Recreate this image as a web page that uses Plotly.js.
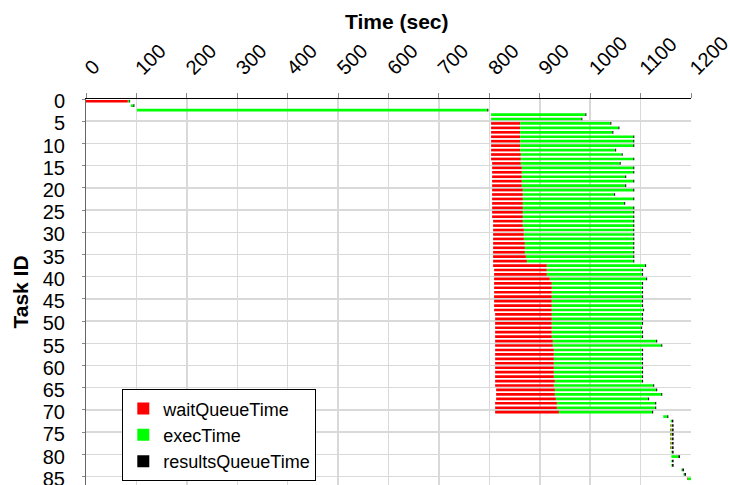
<!DOCTYPE html>
<html>
<head>
<meta charset="utf-8">
<script src="https://cdn.plot.ly/plotly-3.0.1.min.js"></script>
<style>html,body{margin:0;padding:0;background:#fff;}#chart{width:730px;height:485px;}</style>
</head>
<body>
<div id="chart"></div>
<script>
const taskIds = [0,1,2,3,4,5,6,7,8,9,10,11,12,13,14,15,16,17,18,19,20,21,22,23,24,25,26,27,28,29,
  30,31,32,33,34,35,36,37,38,39,40,41,42,43,44,45,46,47,48,49,50,51,52,53,54,55,56,57,58,59,
  60,61,62,63,64,65,66,67,68,69,70,71,72,73,74,75,76,77,78,79,80,81,82,83,84,85];

const startTime = [0,89,101,
  803.5,803.5,803.5,803.5,803.5,803.5,803.5,803.5,803.5,803.5,803.5,
  805.5,805.5,805.5,805.5,805.5,805.5,805.5,805.5,805.5,805.5,805.5,805.5,805.5,
  807.5,807.5,807.5,807.5,807.5,807.5,807.5,807.5,807.5,807.5,807.5,
  809.5,809.5,809.5,809.5,809.5,809.5,809.5,809.5,809.5,809.5,
  811.5,811.5,811.5,811.5,811.5,811.5,811.5,811.5,811.5,811.5,811.5,811.5,811.5,811.5,811.5,811.5,811.5,
  813.5,813.5,813.5,
  811.5,811.5,811.5,
  1145,1159.5,1159,1159,1159,1159,1159,1159,1161,1161,1161,1161,1181,1185,1192];

const waitQueueTime = [83,0,0,0,0,
  57.5,57.5,57.5,57.5,57.5,57.5,57.5,59,59,
  57,59,59,59,59,59,61,61,61,61,61,61,61,
  59,59,61,61,61,63,63,63,65,67,106.5,
  104.5,104.5,110.5,114.5,114.5,114.5,114.5,114.5,114.5,114.5,
  112.5,112.5,112.5,112.5,112.5,112.5,114.5,114.5,
  116.5,116.5,116.5,116.5,116.5,116.5,116.5,118.5,116.5,
  116.5,116.5,118.5,122.5,122.5,126.5,
  0,0,1.5,1.5,1.5,1.5,1.5,1.5,0,0,0,0,0,0,1.5];

const execTime = [3,5,695,187,179,
  179,195,183,224.5,224.5,224.5,188.5,200,223,
  196,221,221,205,221,205,219,181,219,201,219,219,219,
  219,219,217,217,217,215,215,215,213,211,195,
  189,189,191,179,179,179,179,179,179,181,
  179,179,179,177,179,179,205,215,
  175,175,175,175,175,175,175,173,197,
  201,211,183,195,195,185,
  8,2.5,2,2,2,2,2,2,1.5,14,1.5,1.5,2,2,17];

const resultsQueueTime = [1.5,2,2,2,2,
  2,2,2,2,2,2,2,2,2,
  2,2,2,2,2,2,2,2,2,2,2,2,2,
  2,2,2,2,2,2,2,2,2,2,2,
  2,2,2,2,2,2,2,2,2,2,
  2,2,2,2,2,2,2,2,
  2,2,2,2,2,2,2,2,2,
  2,2,2,2,2,2,
  2,3,3,3,3,3,3,3,3,3,3,3,3,3,0];

const yTickVals = [0,5,10,15,20,25,30,35,40,45,50,55,60,65,70,75,80,85];
const xTickVals = [0,100,200,300,400,500,600,700,800,900,1000,1100,1200];

const waitBase = startTime.slice();
const execBase = startTime.map((s, i) => s + waitQueueTime[i]);
const resBase = execBase.map((b, i) => b + execTime[i]);

const FONT = 'Liberation Sans, Arial, sans-serif';
const barW = 0.6;

const traces = [
  {type:'bar', orientation:'h', name:'waitQueueTime', y:taskIds, x:waitQueueTime, base:waitBase,
   width:barW, marker:{color:'#ff0000', line:{width:0}}},
  {type:'bar', orientation:'h', name:'execTime', y:taskIds, x:execTime, base:execBase,
   width:barW, marker:{color:'#00ff00', line:{width:0}}},
  {type:'bar', orientation:'h', name:'resultsQueueTime', y:taskIds, x:resultsQueueTime, base:resBase,
   width:barW, marker:{color:'#000000', line:{width:0}}}
];

const layout = {
  width:730, height:485,
  margin:{l:86, r:39, t:99, b:0, pad:0},
  paper_bgcolor:'#ffffff', plot_bgcolor:'#ffffff',
  font:{family:FONT, size:18, color:'#000'},
  barmode:'overlay',
  showlegend:true,
  legend:{x:0.06, y:0.248, xanchor:'left', yanchor:'top', bgcolor:'#ffffff',
          bordercolor:'#000000', borderwidth:1, font:{family:FONT, size:18, color:'#000'},
          traceorder:'normal', tracegroupgap:0},
  xaxis:{side:'top', range:[0,1200], tickvals:xTickVals, ticktext:xTickVals.map(String),
         tickangle:-45, showgrid:true, gridcolor:'#d9d9d9', gridwidth:1.5,
         showline:true, linecolor:'#000', linewidth:1,
         ticks:'outside', ticklen:11, tickcolor:'rgba(0,0,0,0)',
         minor:{tick0:0.01, dtick:100, ticks:'outside', ticklen:5, tickcolor:'#888', showgrid:false},
         zeroline:false, tickfont:{family:FONT, size:20}, ticklabeloverflow:'allow'},
  yaxis:{range:[86.4,-0.5], tickvals:yTickVals, ticktext:yTickVals.map(String),
         showgrid:false, zeroline:false, showline:true, linecolor:'#666', linewidth:1,
         ticks:'', ticklabelstandoff:16, ticklabeloverflow:'allow', tickfont:{family:FONT, size:20},
         minor:{tick0:-0.5, dtick:5, showgrid:true, gridcolor:'#d9d9d9', gridwidth:1.5,
                ticks:'outside', ticklen:3, tickcolor:'#888'},
         title:{text:'<b>Task ID</b>', font:{family:FONT, size:21}, standoff:8}},
  annotations:[{text:'<b>Time (sec)</b>', xref:'paper', yref:'paper', x:0.514, y:1.201,
                xanchor:'center', yanchor:'middle', showarrow:false,
                font:{family:FONT, size:21, color:'#000'}}]
};

Plotly.newPlot('chart', traces, layout, {staticPlot:true, displayModeBar:false});
</script>
</body>
</html>
